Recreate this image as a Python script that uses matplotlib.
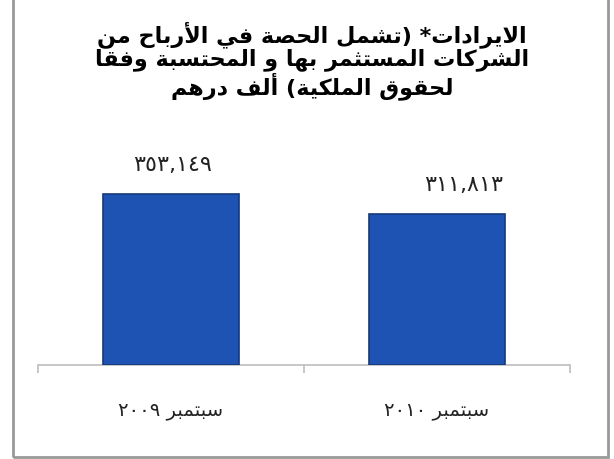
import re
import matplotlib
matplotlib.use("Agg")
import matplotlib.pyplot as plt
from matplotlib.patches import Rectangle

# data
categories = ["سبتمبر ٢٠٠٩", "سبتمبر ٢٠١٠"]
values = [353149, 311813]
title_lines = [
    "الايرادات* (تشمل الحصة في الأرباح من",
    "الشركات المستثمر بها و المحتسبة وفقا",
    "لحقوق الملكية) ألف درهم",
]

# matplotlib has no arabic shaping, so do a small one by hand
# letter -> (isolated, final, initial, medial); None = does not join forward
FORMS = {
    'ا': ('\uFE8D', '\uFE8E', None, None),
    'أ': ('\uFE83', '\uFE84', None, None),
    'ب': ('\uFE8F', '\uFE90', '\uFE91', '\uFE92'),
    'ة': ('\uFE93', '\uFE94', None, None),
    'ت': ('\uFE95', '\uFE96', '\uFE97', '\uFE98'),
    'ث': ('\uFE99', '\uFE9A', '\uFE9B', '\uFE9C'),
    'ح': ('\uFEA1', '\uFEA2', '\uFEA3', '\uFEA4'),
    'د': ('\uFEA9', '\uFEAA', None, None),
    'ر': ('\uFEAD', '\uFEAE', None, None),
    'س': ('\uFEB1', '\uFEB2', '\uFEB3', '\uFEB4'),
    'ش': ('\uFEB5', '\uFEB6', '\uFEB7', '\uFEB8'),
    'ص': ('\uFEB9', '\uFEBA', '\uFEBB', '\uFEBC'),
    'ف': ('\uFED1', '\uFED2', '\uFED3', '\uFED4'),
    'ق': ('\uFED5', '\uFED6', '\uFED7', '\uFED8'),
    'ك': ('\uFED9', '\uFEDA', '\uFEDB', '\uFEDC'),
    'ل': ('\uFEDD', '\uFEDE', '\uFEDF', '\uFEE0'),
    'م': ('\uFEE1', '\uFEE2', '\uFEE3', '\uFEE4'),
    'ن': ('\uFEE5', '\uFEE6', '\uFEE7', '\uFEE8'),
    'ه': ('\uFEE9', '\uFEEA', '\uFEEB', '\uFEEC'),
    'و': ('\uFEED', '\uFEEE', None, None),
    'ي': ('\uFEF1', '\uFEF2', '\uFEF3', '\uFEF4'),
    '\uFEFB': ('\uFEFB', '\uFEFC', None, None),  # lam-alef
    '\uFEF7': ('\uFEF7', '\uFEF8', None, None),  # lam-alef hamza
}


def shape(s):
    s = s.replace('لا', '\uFEFB').replace('لأ', '\uFEF7')
    out = []
    for i, c in enumerate(s):
        if c not in FORMS:
            out.append(c)
            continue
        p = s[i - 1] if i > 0 else ''
        n = s[i + 1] if i + 1 < len(s) else ''
        jp = p in FORMS and FORMS[p][2] is not None
        jn = FORMS[c][2] is not None and n in FORMS
        k = 3 if (jp and jn) else 1 if jp else 2 if jn else 0
        out.append(FORMS[c][k])
    # visual order: reverse, keep numbers LTR, mirror brackets
    toks = re.findall(r'[0-9\u0660-\u0669,]+|.', ''.join(out))
    toks = toks[::-1]
    mirror = {'(': ')', ')': '('}
    return ''.join(mirror.get(t, t) for t in toks)


def arabic_digits(v):
    return f"{v:,}".translate(str.maketrans("0123456789", "٠١٢٣٤٥٦٧٨٩"))


plt.rcParams['font.family'] = ['DejaVu Sans']

fig = plt.figure(figsize=(6.14, 4.59), dpi=100)
W, H = 614, 459
ax = fig.add_axes([38 / W, (H - 365) / H, 532 / W, 184 / H])

x = list(range(len(categories)))
ax.bar(x, values, width=0.51, color='#1f53b3', edgecolor='#15397a', linewidth=1.2, zorder=3)
ax.set_xlim(-0.5, 1.5)
ax.set_ylim(0, 380000)

# the right label sits a bit off centre in the original
label_dx = [1, 19]
for xi, v, dx in zip(x, values, label_dx):
    ax.annotate(arabic_digits(v), (xi, v), xytext=(dx, 14), textcoords='offset points',
                ha='center', va='bottom', fontsize=16, color='#222222')

for s in ['top', 'left', 'right']:
    ax.spines[s].set_visible(False)
ax.spines['bottom'].set_color('#bdbdbd')
ax.spines['bottom'].set_linewidth(1.2)
ax.set_yticks([])
ax.set_xticks([-0.5, 0.5, 1.5])
ax.set_xticklabels([])
ax.tick_params(axis='x', which='major', direction='out', length=6, color='#bdbdbd', width=1.2)
ax.set_xticks(x, minor=True)
ax.set_xticklabels([shape(c) for c in categories], minor=True, fontsize=14, color='#222222')
ax.tick_params(axis='x', which='minor', length=0, pad=26)

fig.text(312 / W, 1 - 21 / H, '\n'.join(shape(l) for l in title_lines),
         ha='center', va='top', fontsize=16, fontweight='bold', linespacing=1.05)

# outer frame, top edge is cut off in the original
fig.patches.append(Rectangle((13 / W, 2 / H), 595 / W, 1.2, transform=fig.transFigure,
                             fill=False, edgecolor='#999999', linewidth=2))

fig.savefig('out.png', dpi=100)
